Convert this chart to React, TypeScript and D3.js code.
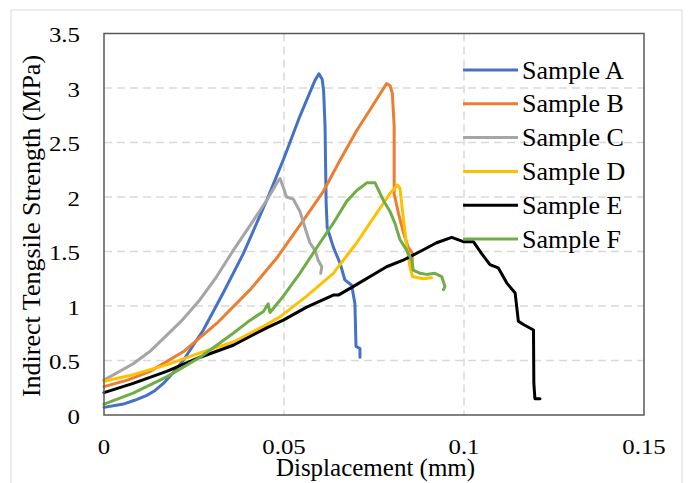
import React from "react";
import * as d3 from "d3";

type P = [number, number];

const seriesNames = ["Sample A", "Sample B", "Sample C", "Sample D", "Sample E", "Sample F"];
const seriesColors = ["#4472C4", "#ED7D31", "#A5A5A5", "#FFC000", "#000000", "#70AD47"];

const sampleA: P[] = [
  [0, 0.07], [0.0054, 0.1], [0.0085, 0.135], [0.0119, 0.18], [0.0142, 0.225], [0.0165, 0.29],
  [0.019, 0.38], [0.022, 0.5], [0.0276, 0.78],
  [0.0331, 1.12], [0.0387, 1.48], [0.0452, 1.97], [0.0498, 2.34], [0.0544, 2.74], [0.0586, 3.07],
  [0.0597, 3.13], [0.0606, 3.08], [0.061, 2.98], [0.0614, 2.65], [0.0617, 1.95], [0.062, 1.72], [0.0637, 1.54],
  [0.0656, 1.39], [0.0669, 1.24], [0.0688, 1.19], [0.0697, 1.02], [0.07, 0.63], [0.0711, 0.61],
  [0.0711, 0.53],
];
const sampleB: P[] = [
  [0, 0.26], [0.0065, 0.32], [0.0128, 0.4], [0.022, 0.58], [0.0313, 0.84], [0.0406, 1.15], [0.048, 1.44],
  [0.0544, 1.74], [0.0609, 2.05], [0.0656, 2.34], [0.0702, 2.61], [0.0739, 2.8], [0.0785, 3.04],
  [0.0795, 3.02], [0.0801, 2.95], [0.0806, 2.65], [0.0806, 2.03], [0.0818, 1.85], [0.0832, 1.67], [0.0845, 1.54],
  [0.0857, 1.48], [0.0855, 1.36], [0.0853, 1.33],
];
const sampleC: P[] = [
  [0, 0.32], [0.0081, 0.47], [0.013, 0.59], [0.0174, 0.73], [0.022, 0.88], [0.0267, 1.06], [0.0313, 1.27], [0.0359, 1.51],
  [0.0406, 1.74], [0.0452, 1.97], [0.0484, 2.15], [0.0489, 2.17], [0.0498, 2.09], [0.0507, 2.0],
  [0.0526, 1.98], [0.0544, 1.87], [0.0563, 1.67], [0.0572, 1.58], [0.0586, 1.51], [0.0595, 1.42],
  [0.0605, 1.36], [0.0602, 1.3],
];
const sampleD: P[] = [
  [0, 0.31], [0.0081, 0.37], [0.0174, 0.46], [0.0267, 0.57], [0.0359, 0.67], [0.0452, 0.83],
  [0.0489, 0.9], [0.0563, 1.09], [0.0637, 1.3], [0.0702, 1.58], [0.0757, 1.85], [0.0794, 2.03],
  [0.0815, 2.11], [0.0822, 2.08], [0.0831, 1.82], [0.0841, 1.54], [0.085, 1.36], [0.0857, 1.27],
  [0.0887, 1.25], [0.091, 1.26],
];
const sampleE: P[] = [
  [0, 0.205], [0.0081, 0.29], [0.0174, 0.4], [0.0267, 0.53], [0.0359, 0.64], [0.0452, 0.8],
  [0.0498, 0.87], [0.0563, 0.99], [0.0637, 1.1], [0.0651, 1.1], [0.0693, 1.18], [0.0785, 1.36],
  [0.0831, 1.42], [0.0878, 1.5], [0.0924, 1.58], [0.0966, 1.63], [0.0998, 1.59], [0.1026, 1.59],
  [0.1049, 1.48], [0.1072, 1.38], [0.1095, 1.35], [0.1119, 1.21], [0.1142, 1.12], [0.1151, 0.86],
  [0.1165, 0.83], [0.1193, 0.78], [0.1194, 0.29], [0.1197, 0.15], [0.1211, 0.15],
];
const sampleF: P[] = [
  [0, 0.1], [0.0081, 0.2], [0.0174, 0.35], [0.0267, 0.53], [0.0313, 0.64], [0.0359, 0.75],
  [0.0406, 0.87], [0.0443, 0.95], [0.0456, 1.02], [0.0461, 0.94], [0.0498, 1.09], [0.0544, 1.3],
  [0.06, 1.58], [0.0637, 1.76], [0.0674, 1.96], [0.0702, 2.06], [0.073, 2.13], [0.0753, 2.13],
  [0.0776, 1.97], [0.0794, 1.87], [0.0808, 1.76], [0.0822, 1.61], [0.0841, 1.51], [0.0855, 1.42],
  [0.0859, 1.33], [0.0878, 1.3], [0.0896, 1.29], [0.0919, 1.3], [0.0938, 1.27], [0.0947, 1.18],
  [0.0943, 1.15],
];
const seriesData = [sampleA, sampleB, sampleC, sampleD, sampleE, sampleF];

const xTicks = [0, 0.05, 0.1, 0.15];
const xTickLabels = ["0", "0.05", "0.1", "0.15"];
const yTicks = [0, 0.5, 1, 1.5, 2, 2.5, 3, 3.5];
const yTickLabels = ["0", "0.5", "1", "1.5", "2", "2.5", "3", "3.5"];

const xTitle = "Displacement (mm)";
const yTitle = "Indirect Tengsile Strength (MPa)";

export default function App() {
  const W = 688, H = 483;
  const left = 104, right = 644, top = 33.5, bottom = 415;
  const x = d3.scaleLinear().domain([0, 0.15]).range([left, right]);
  const y = d3.scaleLinear().domain([0, 3.5]).range([bottom, top]);
  const line = d3.line<P>().x((d) => x(d[0])).y((d) => y(d[1]));
  const font = "'Liberation Serif', 'Times New Roman', serif";
  const tfs = 22;
  const sx = 1.13;

  return (
    <div style={{ position: "absolute", left: 0, top: 0 }}>
      <svg width={W} height={H} style={{ display: "block", fontFamily: font }}>
        <rect x={0} y={0} width={W} height={H} fill="#fff" />
        <rect x={11} y={10} width={671} height={485} fill="none" stroke="#d9d9d9" strokeWidth={1} />
        {/* gridlines */}
        {yTicks.filter((t) => t > 0 && t < 3.5).map((t) => (
          <line key={"gy" + t} x1={left} x2={right} y1={y(t)} y2={y(t)} stroke="#d9d9d9" strokeWidth={1.5} strokeDasharray="8,5" />
        ))}
        {xTicks.filter((t) => t > 0 && t < 0.15).map((t) => (
          <line key={"gx" + t} x1={x(t)} x2={x(t)} y1={top} y2={bottom} stroke="#d9d9d9" strokeWidth={1.5} strokeDasharray="8,5" />
        ))}
        {/* series */}
        {seriesData.map((s, i) => (
          <path key={seriesNames[i]} d={line(s) || ""} fill="none" stroke={seriesColors[i]} strokeWidth={3} strokeLinejoin="round" strokeLinecap="round" />
        ))}
        {/* plot border */}
        <rect x={left} y={top} width={right - left} height={bottom - top} fill="none" stroke="#595959" strokeWidth={1.5} />
        {/* x tick labels */}
        {xTicks.map((t, i) => (
          <text key={"xt" + t} transform={`translate(${x(t)},454) scale(${sx},1)`} textAnchor="middle" fontSize={tfs} fill="#000">{xTickLabels[i]}</text>
        ))}
        {/* y tick labels */}
        {yTicks.map((t, i) => (
          <text key={"yt" + t} transform={`translate(80,${y(t) + 8.5}) scale(${sx},1)`} textAnchor="end" fontSize={tfs} fill="#000">{yTickLabels[i]}</text>
        ))}
        {/* titles */}
        <text x={375.5} y={476} textAnchor="middle" fontSize={25} fill="#000">{xTitle}</text>
        <text transform={`translate(40, 226) rotate(-90)`} textAnchor="middle" fontSize={26} fill="#000">{yTitle}</text>
        {/* legend */}
        {seriesNames.map((n, i) => {
          const ly = 70 + i * 33.8;
          return (
            <g key={"lg" + n}>
              <line x1={463} x2={518} y1={ly} y2={ly} stroke={seriesColors[i]} strokeWidth={3} />
              <text x={522} y={ly + 8.5} fontSize={26} fill="#000">{n}</text>
            </g>
          );
        })}
      </svg>
    </div>
  );
}
